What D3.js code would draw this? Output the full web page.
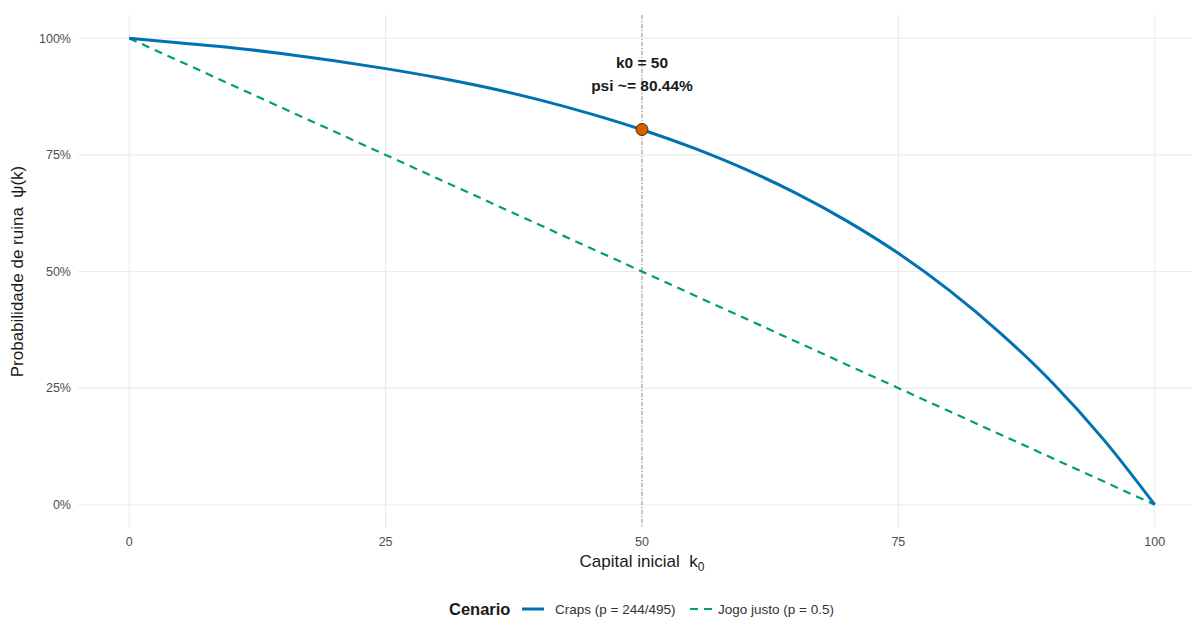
<!DOCTYPE html>
<html>
<head>
<meta charset="utf-8">
<script src="https://cdn.jsdelivr.net/npm/d3@7"></script>
<style>
  body { margin: 0; background: #fff; }
  svg { display: block; font-family: "Liberation Sans", Arial, sans-serif; }
  .grid line { stroke: #ebebeb; stroke-width: 1.1; }
  .tick-label { fill: #4d4d4d; font-size: 12.5px; }
</style>
</head>
<body>
<div id="chart"></div>
<script>
// capital inicial k0 (read every 5 units)
const kValues = [0, 5, 10, 15, 20, 25, 30, 35, 40, 45, 50, 55, 60, 65, 70, 75, 80, 85, 90, 95, 100];
// ruin probability, craps scenario
const crapsPsi = [1.000, 0.990, 0.980, 0.967, 0.952, 0.935, 0.916, 0.894, 0.868, 0.838, 0.804,
                  0.765, 0.720, 0.668, 0.608, 0.539, 0.459, 0.367, 0.262, 0.140, 0.000];
// fair game: straight line from 1 to 0
const fairK = [0, 100];
const fairPsi = [1, 0];

const xTicks = [0, 25, 50, 75, 100];
const yTicks = [0, 0.25, 0.5, 0.75, 1];
const markK = 50;
const markPsi = 0.8044;

const width = 1192, height = 619;
const margin = {top: 15, right: -14, bottom: 91, left: 78};
const pw = width - margin.left - margin.right;
const ph = height - margin.top - margin.bottom;

const svg = d3.select("#chart").append("svg")
    .attr("width", width)
    .attr("height", height);

const g = svg.append("g")
    .attr("transform", "translate(" + margin.left + "," + margin.top + ")");

// scales with ggplot-like 5% expansion
const x = d3.scaleLinear().domain([-5, 105]).range([0, pw]);
const y = d3.scaleLinear().domain([-0.05, 1.05]).range([ph, 0]);

// grid
const grid = g.append("g").attr("class", "grid");
grid.selectAll(".hg").data(yTicks).enter().append("line")
    .attr("x1", 0).attr("x2", pw)
    .attr("y1", d => y(d)).attr("y2", d => y(d));
grid.selectAll(".vg").data(xTicks).enter().append("line")
    .attr("y1", 0).attr("y2", ph)
    .attr("x1", d => x(d)).attr("x2", d => x(d));

// tick labels
g.selectAll(".ylab").data(yTicks).enter().append("text")
    .attr("class", "tick-label")
    .attr("x", -7)
    .attr("y", d => y(d))
    .attr("dy", "0.35em")
    .attr("text-anchor", "end")
    .text(d => d3.format(".0%")(d));

g.selectAll(".xlab").data(xTicks).enter().append("text")
    .attr("class", "tick-label")
    .attr("x", d => x(d))
    .attr("y", ph + 18)
    .attr("text-anchor", "middle")
    .text(d => d);

// vertical reference line at k0
g.append("line")
    .attr("x1", x(markK)).attr("x2", x(markK))
    .attr("y1", 0).attr("y2", ph)
    .attr("stroke", "#7f7f7f")
    .attr("stroke-width", 0.8)
    .attr("stroke-dasharray", "4,2,1,2");

// fair game line
const fairData = fairK.map((k, i) => ({k: k, v: fairPsi[i]}));
g.append("path")
    .datum(fairData)
    .attr("fill", "none")
    .attr("stroke", "#009E73")
    .attr("stroke-width", 2.2)
    .attr("stroke-dasharray", "8,6")
    .attr("d", d3.line().x(d => x(d.k)).y(d => y(d.v)));

// craps line
const crapsData = kValues.map((k, i) => ({k: k, v: crapsPsi[i]}));
g.append("path")
    .datum(crapsData)
    .attr("fill", "none")
    .attr("stroke", "#0072B2")
    .attr("stroke-width", 3)
    .attr("d", d3.line().curve(d3.curveMonotoneX).x(d => x(d.k)).y(d => y(d.v)));

// marker point
g.append("circle")
    .attr("cx", x(markK))
    .attr("cy", y(markPsi))
    .attr("r", 6)
    .attr("fill", "#D55E00")
    .attr("stroke", "#5a2a00")
    .attr("stroke-width", 1);

// annotation
const ann = g.append("text")
    .attr("x", x(markK))
    .attr("y", y(markPsi) - 62)
    .attr("text-anchor", "middle")
    .attr("font-size", "15.5px")
    .attr("font-weight", "bold")
    .attr("fill", "#1a1a1a");
ann.append("tspan").attr("x", x(markK)).text("k0 = " + markK);
ann.append("tspan").attr("x", x(markK)).attr("dy", 23)
    .text("psi ~= " + d3.format(".2f")(markPsi * 100) + "%");

// axis titles
const xt = svg.append("text")
    .attr("x", margin.left + x(50))
    .attr("y", 567)
    .attr("text-anchor", "middle")
    .attr("font-size", "17px")
    .attr("fill", "#1a1a1a");
xt.append("tspan").text("Capital inicial\u00a0 k");
xt.append("tspan").attr("font-size", "12px").attr("dy", 4).text("0");

svg.append("text")
    .attr("transform", "translate(23," + (margin.top + y(0.5)) + ") rotate(-90)")
    .attr("text-anchor", "middle")
    .attr("font-size", "17px")
    .attr("fill", "#1a1a1a")
    .text("Probabilidade de ruina\u00a0 \u03c8(k)");

// legend
const leg = svg.append("g").attr("transform", "translate(0,609)");
leg.append("text")
    .attr("x", 449).attr("y", 0).attr("dy", "0.35em")
    .attr("font-size", "16.5px").attr("font-weight", "bold").attr("fill", "#1a1a1a")
    .text("Cenario");
const legItems = [
    {label: "Craps (p = 244/495)", color: "#0072B2", dash: null, w: 3, x: 522, tx: 555},
    {label: "Jogo justo (p = 0.5)", color: "#009E73", dash: "8,6", w: 2.2, x: 690, tx: 718}
];
legItems.forEach(d => {
    leg.append("line")
        .attr("x1", d.x).attr("x2", d.x + 22)
        .attr("y1", 0).attr("y2", 0)
        .attr("stroke", d.color)
        .attr("stroke-width", d.w)
        .attr("stroke-dasharray", d.dash);
    leg.append("text")
        .attr("x", d.tx).attr("y", 0).attr("dy", "0.35em")
        .attr("font-size", "13.5px").attr("fill", "#333")
        .text(d.label);
});
</script>
</body>
</html>
